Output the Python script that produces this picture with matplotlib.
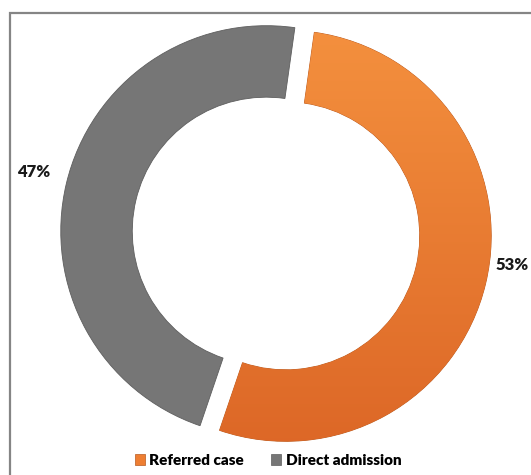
import numpy as np
import matplotlib.pyplot as plt
from matplotlib.patches import Rectangle
from matplotlib.colors import LinearSegmentedColormap

# ---------------------------------------------------------------------------
# Data
# ---------------------------------------------------------------------------
categories = ["Referred case", "Direct admission"]
shares = [53, 47]
colors = ["#EE7E32", "#767676"]

# ---------------------------------------------------------------------------
# Figure (axes span the whole canvas, 1 data unit = 1 pixel, y up)
# ---------------------------------------------------------------------------
W, H = 531, 475
fig = plt.figure(figsize=(W / 100, H / 100), dpi=100)
ax = fig.add_axes([0, 0, 1, 1])

R = 205.5
ring = 71.5
shift = 10          # explode offset, pixels
cx, cy = 276, H - 233.5

wedges, _ = ax.pie(
    shares, colors=colors, radius=R, center=(cx, cy),
    startangle=82, counterclock=False,
    explode=[shift] * len(shares),
    wedgeprops=dict(width=ring, linewidth=0.6),
)

# soft vertical gradient on the orange ring, clipped to the wedge
grad = LinearSegmentedColormap.from_list("org", ["#DC6626", "#F5923F"])
img = ax.imshow(np.linspace(0, 1, 256).reshape(-1, 1), cmap=grad, aspect="auto",
                origin="lower", extent=(cx - R - 20, cx + R + 30, cy - R - 20, cy + R + 20),
                zorder=wedges[0].get_zorder() + 0.1)
img.set_clip_path(wedges[0])
wedges[0].set_edgecolor("#b85a20")
wedges[1].set_edgecolor("#5e5e5e")

ax.set_xlim(0, W)
ax.set_ylim(0, H)
ax.set_aspect("equal")
ax.axis("off")

# percentage labels
label_pos = [(529, H - 265, "right"), (34, H - 172, "center")]
for val, (x, y, ha) in zip(shares, label_pos):
    ax.text(x, y, f"{val}%", ha=ha, va="center", fontsize=12,
            fontweight="heavy", family="Lato", color="#1a1a1a")

# frame around the chart area (cut off at right and bottom)
ax.add_patch(Rectangle((10, -10), 700, H - 13 + 10, fill=False,
                       edgecolor="#858585", linewidth=1.6, clip_on=False))

leg = fig.legend(wedges, categories, loc="lower center", ncol=2, frameon=False,
                 bbox_to_anchor=(0.505, -0.012), handlelength=0.65, handleheight=0.65,
                 handletextpad=0.3, columnspacing=1.8,
                 prop=dict(family="Lato", weight="heavy", size=11))
for h in leg.legend_handles:
    h.set_linewidth(0.5)

fig.savefig("out.png", dpi=100)
